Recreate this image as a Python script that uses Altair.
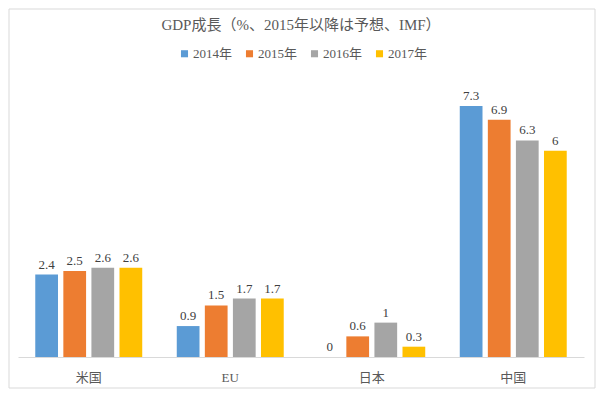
import altair as alt
import pandas as pd

categories = ["米国", "EU", "日本", "中国"]
years = ["2014年", "2015年", "2016年", "2017年"]
v2014 = [2.4, 0.9, 0.0, 7.3]
v2015 = [2.5, 1.5, 0.6, 6.9]
v2016 = [2.6, 1.7, 1.0, 6.3]
v2017 = [2.6, 1.7, 0.3, 6.0]
colors = ["#5B9BD5", "#ED7D31", "#A5A5A5", "#FFC000"]

rows = []
for yr, vals in zip(years, [v2014, v2015, v2016, v2017]):
    for c, v in zip(categories, vals):
        rows.append({"cat": c, "year": yr, "value": v, "label": format(v, "g")})
df = pd.DataFrame(rows)

FONT = "Liberation Serif, Noto Sans CJK JP, serif"

base = alt.Chart(df).encode(
    x=alt.X("cat:N", sort=categories, title=None,
            scale=alt.Scale(paddingInner=0.244, paddingOuter=0.122),
            axis=alt.Axis(labelAngle=0, ticks=False, domainColor="#d9d9d9",
                          labelFont=FONT, labelFontSize=13, labelColor="#595959",
                          labelPadding=14, grid=False)),
    xOffset=alt.XOffset("year:N", sort=years,
                        scale=alt.Scale(paddingInner=0.19, paddingOuter=0)),
    y=alt.Y("value:Q", scale=alt.Scale(domain=[0, 8]), axis=None),
)

bars = base.mark_bar().encode(
    color=alt.Color("year:N", sort=years,
                    scale=alt.Scale(domain=years, range=colors),
                    legend=alt.Legend(title=None, orient="none", direction="horizontal",
                                      legendX=160, legendY=-35,
                                      symbolType="square", symbolSize=50,
                                      symbolStrokeWidth=0,
                                      labelFont=FONT, labelFontSize=13,
                                      labelColor="#595959", columnPadding=10,
                                      symbolOffset=0, labelOffset=2))
)

labels = base.mark_text(dy=-10, font=FONT, fontSize=13, color="#404040").encode(
    text="label:N"
)

border = alt.Chart(pd.DataFrame({"a": [0]})).mark_rect(
    fillOpacity=0, stroke="#d9d9d9", strokeWidth=1
).encode(
    x=alt.value(-9), x2=alt.value(577), y=alt.value(-73), y2=alt.value(306)
)

chart = alt.layer(border, bars, labels).properties(
    width=566, height=275,
    autosize=alt.AutoSizeParams(type="none"),
    padding={"left": 10, "top": 74, "right": 12, "bottom": 32},
    title=alt.TitleParams("GDP成長（%、2015年以降は予想、IMF）", font=FONT,
                          fontSize=15, fontWeight="normal", color="#595959",
                          anchor="middle", offset=-24),
).configure_view(stroke=None)

chart.save("out.html", embed_options={"renderer": "svg", "actions": False})
